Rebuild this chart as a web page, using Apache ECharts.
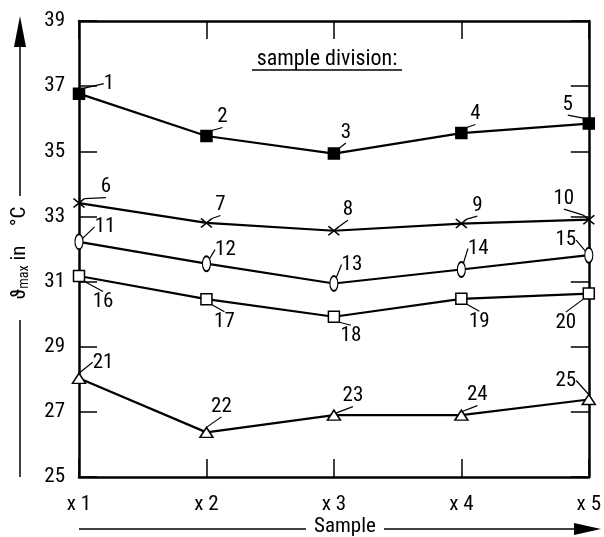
<!DOCTYPE html>
<html>
<head>
<meta charset="utf-8">
<script src="https://cdn.jsdelivr.net/npm/echarts@6/dist/echarts.min.js"></script>
<style>html,body{margin:0;padding:0;background:#fff;}#c{width:604px;height:537px;}</style>
</head>
<body>
<div id="c"></div>
<script>
const categories = ['x 1', 'x 2', 'x 3', 'x 4', 'x 5'];
const yTicks = [25, 27, 29, 31, 33, 35, 37, 39];

const seriesA = [36.77, 35.47, 34.93, 35.56, 35.85];
const seriesB = [33.41, 32.80, 32.56, 32.78, 32.90];
const seriesC = [32.22, 31.55, 30.94, 31.37, 31.81];
const seriesD = [31.17, 30.46, 29.92, 30.47, 30.63];
const seriesE = [28.03, 26.37, 26.90, 26.90, 27.38];

const numbersA = ['1', '2', '3', '4', '5'];
const numbersB = ['6', '7', '8', '9', '10'];
const numbersC = ['11', '12', '13', '14', '15'];
const numbersD = ['16', '17', '18', '19', '20'];
const numbersE = ['21', '22', '23', '24', '25'];

// label offsets (styling)
const offA = [[30, -10], [16, -19], [12, -21], [14, -19], [-21, -19]];
const offB = [[27, -16], [14, -18], [14, -21], [16, -18], [-25, -21]];
const offC = [[26, -15], [19, -14], [18, -19], [17, -21], [-23, -15]];
const offD = [[24, 26], [18, 23], [17, 19], [18, 23], [-23, 29]];
const offE = [[24, -16], [15, -26], [19, -19], [16, -20], [-23, -19]];

const FONT = '"Roboto Condensed", "DejaVu Sans Condensed", sans-serif';

function mk(values, nums, offs, symbol, size, fill) {
  return {
    type: 'line',
    data: values,
    symbol: symbol,
    symbolSize: size,
    showAllSymbol: true,
    clip: false,
    silent: true,
    lineStyle: { color: '#000', width: 2.2 },
    itemStyle: { color: fill, borderColor: '#000', borderWidth: 1.5 },
    label: {
      show: true, position: 'inside', color: '#000', fontFamily: FONT, fontSize: 21,
      formatter: p => nums[p.dataIndex]
    },
    labelLayout: p => ({ dx: offs[p.dataIndex][0], dy: offs[p.dataIndex][1] }),
    labelLine: { show: true, lineStyle: { color: '#000', width: 1.2 } },
    emphasis: { disabled: true },
    z: 3
  };
}

const axisLineStyle = { color: '#000', width: 2.5 };
const tickStyle = { color: '#000', width: 1.5 };

const option = {
  animation: false,
  backgroundColor: '#fff',
  grid: { left: 79, right: 6, top: 21, bottom: 60 },
  xAxis: [
    {
      type: 'category', data: categories, boundaryGap: false, position: 'bottom',
      axisLine: { lineStyle: axisLineStyle },
      axisTick: { inside: true, length: 18, lineStyle: tickStyle },
      axisLabel: { color: '#000', fontSize: 21, fontFamily: FONT, margin: 17 },
      splitLine: { show: false }
    },
    {
      type: 'category', data: categories, boundaryGap: false, position: 'top',
      axisLine: { lineStyle: axisLineStyle },
      axisTick: { inside: true, length: 18, lineStyle: tickStyle },
      axisLabel: { show: false },
      splitLine: { show: false }
    }
  ],
  yAxis: [
    {
      type: 'value', min: yTicks[0], max: yTicks[yTicks.length - 1], interval: 2, position: 'left',
      axisLine: { show: true, lineStyle: axisLineStyle },
      axisTick: { show: true, inside: true, length: 18, lineStyle: tickStyle },
      axisLabel: { color: '#000', fontSize: 21, fontFamily: FONT, margin: 14 },
      splitLine: { show: false }
    },
    {
      type: 'value', min: yTicks[0], max: yTicks[yTicks.length - 1], interval: 2, position: 'right',
      axisLine: { show: true, lineStyle: axisLineStyle },
      axisTick: { show: true, inside: true, length: 18, lineStyle: tickStyle },
      axisLabel: { show: false },
      splitLine: { show: false }
    }
  ],
  series: [
    mk(seriesA, numbersA, offA, 'rect', 11, '#000'),
    mk(seriesB, numbersB, offB, 'path://M0,0L10,8M10,0L0,8', [11, 9], '#fff'),
    mk(seriesC, numbersC, offC, 'circle', [8, 15], '#fff'),
    mk(seriesD, numbersD, offD, 'rect', 11, '#fff'),
    mk(seriesE, numbersE, offE, 'triangle', [13, 10], '#fff')
  ],
  graphic: [
    // y axis title arrow
    { type: 'line', shape: { x1: 20, y1: 45, x2: 20, y2: 196 }, style: { stroke: '#000', lineWidth: 1.5 }, silent: true },
    { type: 'line', shape: { x1: 20, y1: 320, x2: 20, y2: 477 }, style: { stroke: '#000', lineWidth: 1.5 }, silent: true },
    { type: 'polygon', shape: { points: [[20, 16], [14, 47], [26, 47]] }, style: { fill: '#000' }, silent: true },
    {
      type: 'text', x: 20, y: 253, rotation: Math.PI / 2, silent: true,
      style: {
        text: '{t|ϑ}{s|max}{n| in    °C}',
        align: 'center', verticalAlign: 'middle', fill: '#000',
        rich: {
          t: { fontSize: 21, fontFamily: FONT, fill: '#000' },
          s: { fontSize: 14, fontFamily: FONT, fill: '#000', padding: [9, 0, 0, 0] },
          n: { fontSize: 21, fontFamily: FONT, fill: '#000' }
        }
      }
    },
    // x axis title arrow
    { type: 'line', shape: { x1: 79, y1: 529, x2: 306, y2: 529 }, style: { stroke: '#000', lineWidth: 1.5 }, silent: true },
    { type: 'line', shape: { x1: 384, y1: 529, x2: 578, y2: 529 }, style: { stroke: '#000', lineWidth: 1.5 }, silent: true },
    { type: 'polygon', shape: { points: [[601, 529], [574, 523], [574, 535]] }, style: { fill: '#000' }, silent: true },
    {
      type: 'text', x: 345, y: 527, silent: true,
      style: { text: 'Sample', align: 'center', verticalAlign: 'middle', fill: '#000', fontSize: 21, fontFamily: FONT }
    },
    // sample division
    {
      type: 'text', x: 327, y: 59, silent: true,
      style: { text: 'sample division:', align: 'center', verticalAlign: 'middle', fill: '#000', fontSize: 22, fontFamily: FONT }
    },
    { type: 'line', shape: { x1: 252, y1: 70, x2: 402, y2: 70 }, style: { stroke: '#000', lineWidth: 1.3 }, silent: true }
  ]
};

const chart = echarts.init(document.getElementById('c'), null, { renderer: 'canvas' });
chart.setOption(option);
</script>
</body>
</html>
